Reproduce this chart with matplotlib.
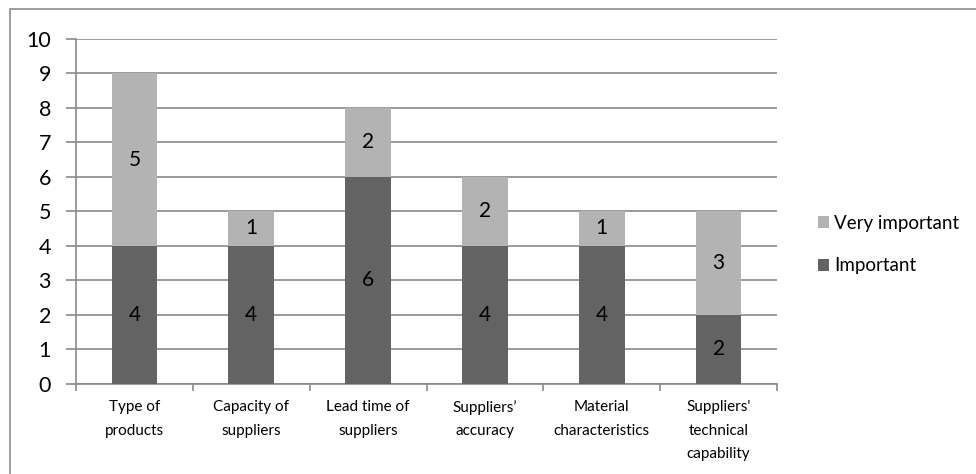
import matplotlib.pyplot as plt
from matplotlib.patches import Rectangle
import numpy as np

plt.rcParams['font.family'] = ['Lato', 'DejaVu Sans']

categories = ["Type of\nproducts", "Capacity of\nsuppliers", "Lead time of\nsuppliers",
              "Suppliers\u2019\naccuracy", "Material\ncharacteristics",
              "Suppliers'\ntechnical\ncapability"]
important = [4, 4, 6, 4, 4, 2]
very_important = [5, 1, 2, 2, 1, 3]

dark = "#636363"
light = "#b3b3b3"
grid_c = "#8a8a8a"

fig = plt.figure(figsize=(9.76, 4.74), dpi=100)
# chart frame (top and left edges show, the rest runs off the canvas)
fig.patches.append(Rectangle((9.5 / 976, -0.1), 1.2, 1.1 - 9.5 / 474,
                             transform=fig.transFigure, fill=False,
                             edgecolor="#8c8c8c", lw=1.2))

ax = fig.add_axes([76 / 976, 1 - 383.5 / 474, (777 - 76) / 976, (383.5 - 39) / 474])

x = np.arange(len(categories))
w = 0.39
b1 = ax.bar(x, important, w, color=dark, label="Important", zorder=3)
b2 = ax.bar(x, very_important, w, bottom=important, color=light,
            label="Very important", zorder=3)

for bars, vals, base in [(b1, important, [0] * 6), (b2, very_important, important)]:
    for r, v, b in zip(bars, vals, base):
        ax.text(r.get_x() + r.get_width() / 2, b + v / 2, str(v),
                ha="center", va="center", fontsize=15, color="black", zorder=4)

ax.set_xlim(-0.5, len(categories) - 0.5)
ax.set_ylim(0, 10)
ax.set_yticks(range(0, 11))
ax.yaxis.grid(True, color=grid_c, lw=1.2, zorder=0)
ax.set_axisbelow(True)

for s in ["top", "right"]:
    ax.spines[s].set_visible(False)
for s in ["left", "bottom"]:
    ax.spines[s].set_color(grid_c)
    ax.spines[s].set_linewidth(1.2)

ax.set_xticks(x)
ax.set_xticklabels(categories, fontsize=11, linespacing=1.85, va="top")
ax.tick_params(axis="x", length=0, pad=12)
ax.set_xticks(np.arange(-0.5, len(categories)), minor=True)
ax.tick_params(axis="x", which="minor", length=5, color=grid_c, width=1.2)
ax.tick_params(axis="y", length=7, color=grid_c, width=1.2, labelsize=15.5, pad=11)

handles, labels = ax.get_legend_handles_labels()
fig.legend(handles[::-1], labels[::-1], loc="center left",
           bbox_to_anchor=(801 / 976, 1 - 244.5 / 474),
           frameon=False, fontsize=13.5, handlelength=0.6, handleheight=0.6,
           handletextpad=0.25, labelspacing=1.35)

fig.savefig("out.png", dpi=100, facecolor="white")
